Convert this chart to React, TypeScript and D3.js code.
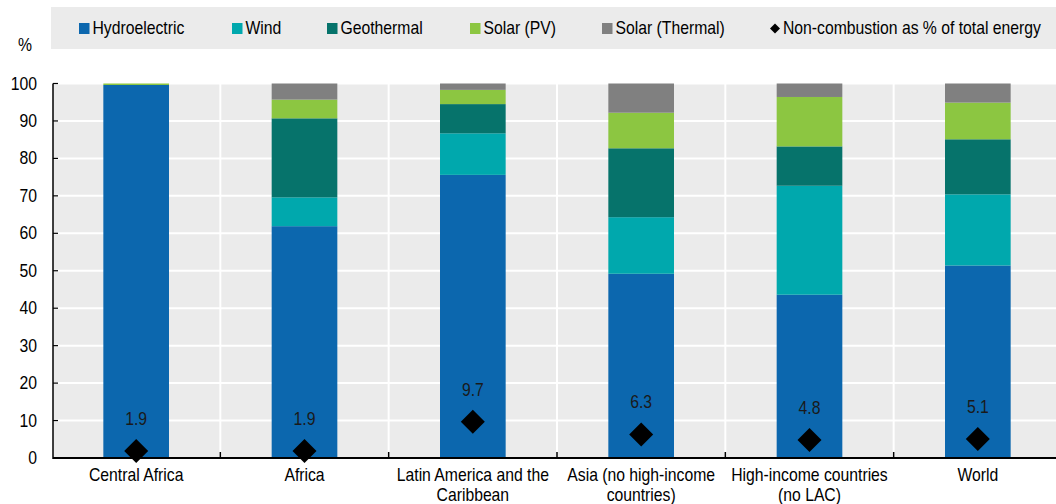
import * as d3 from 'd3';

const categories = [
  ['Central Africa'],
  ['Africa'],
  ['Latin America and the', 'Caribbean'],
  ['Asia (no high-income', 'countries)'],
  ['High-income countries', '(no LAC)'],
  ['World'],
];

const seriesNames = ['Hydroelectric', 'Wind', 'Geothermal', 'Solar (PV)', 'Solar (Thermal)'];
const seriesColors = ['#0c67ae', '#00a8ad', '#06736b', '#8cc641', '#808080'];

const hydro = [99.6, 61.9, 75.6, 49.2, 43.6, 51.4];
const wind = [0, 7.7, 11.1, 15.1, 29.1, 19.0];
const geothermal = [0, 21.1, 7.8, 18.4, 10.5, 14.7];
const solarPV = [0.4, 5.0, 3.8, 9.5, 13.2, 9.8];
const solarThermal = [0, 4.3, 1.7, 7.8, 3.6, 5.1];

const nonCombustion = [1.9, 1.9, 9.7, 6.3, 4.8, 5.1];
const yTicks = [0, 10, 20, 30, 40, 50, 60, 70, 80, 90, 100];

const FONT = '"Liberation Sans", Arial, sans-serif';
const FS = 17.5;
const SX = 0.9; // narrow the sans to look like Arial Narrow

// text squeezed horizontally around its anchor point
function NText({ x, y, anchor = 'start', children, fill = '#000' }: any) {
  return (
    <text
      transform={`translate(${x},${y}) scale(${SX},1)`}
      textAnchor={anchor}
      fontSize={FS}
      fill={fill}
    >
      {children}
    </text>
  );
}

export default function App() {
  const width = 1056;
  const height = 504;
  const left = 53;
  const right = 1056;
  const top = 83.5;
  const bottom = 458;

  const keys = categories.map((c) => c.join(' '));
  const x = d3.scaleBand<string>().domain(keys).range([52, 1062]).paddingInner(0).paddingOuter(0);
  const y = d3.scaleLinear().domain([0, 100]).range([bottom, top]);
  const barW = x.bandwidth() * 0.39;

  const rows = keys.map((k, i) => ({
    key: k,
    Hydroelectric: hydro[i],
    Wind: wind[i],
    Geothermal: geothermal[i],
    'Solar (PV)': solarPV[i],
    'Solar (Thermal)': solarThermal[i],
  }));
  const stacked = d3.stack<any>().keys(seriesNames)(rows);

  const diamond = (cx: number, cy: number, r: number) =>
    `M${cx},${cy - r}L${cx + r},${cy}L${cx},${cy + r}L${cx - r},${cy}Z`;

  const legendX = [79, 232, 327, 470, 602];

  return (
    <svg width={width} height={height} style={{ position: 'absolute', left: 0, top: 0 }} fontFamily={FONT}>
      {/* legend */}
      <rect x={51} y={7} width={right - 51} height={42} fill="#ebebeb" />
      {seriesNames.map((s, i) => (
        <g key={s}>
          <rect x={legendX[i]} y={23} width={10.5} height={11} fill={seriesColors[i]} />
          <NText x={legendX[i] + 13.5} y={34}>{s}</NText>
        </g>
      ))}
      <path d={diamond(775, 28.5, 5)} fill="#000" />
      <NText x={783} y={34}>Non-combustion as % of total energy</NText>

      {/* plot background */}
      <rect x={left} y={top} width={right - left} height={bottom - top} fill="#ebebeb" />
      {yTicks.filter((t) => t > 0).map((t) => (
        <line key={t} x1={left} x2={right} y1={y(t)} y2={y(t)} stroke="#fff" strokeWidth={2} />
      ))}
      {keys.slice(1).map((k) => (
        <line key={k} x1={x(k)!} x2={x(k)!} y1={top} y2={bottom} stroke="#fff" strokeWidth={2} />
      ))}

      {/* bars */}
      {stacked.map((layer, si) => (
        <g key={layer.key} fill={seriesColors[si]}>
          {layer.map((d, i) => {
            const h = y(d[0]) - y(d[1]);
            if (h <= 0) return null;
            return (
              <rect
                key={i}
                x={x(keys[i])! + (x.bandwidth() - barW) / 2}
                y={y(d[1])}
                width={barW}
                height={h}
              />
            );
          })}
        </g>
      ))}

      {/* non-combustion markers */}
      {nonCombustion.map((v, i) => {
        const cx = x(keys[i])! + x.bandwidth() / 2;
        return (
          <g key={i}>
            <path d={diamond(cx, y(v), 12)} fill="#000" />
            <NText x={cx} y={y(v) - 26} anchor="middle" fill="#1a1a1a">
              {v.toFixed(1)}
            </NText>
          </g>
        );
      })}

      {/* axes */}
      <line x1={left} x2={left} y1={top} y2={bottom + 1} stroke="#000" strokeWidth={1.5} />
      <line x1={left} x2={right} y1={bottom} y2={bottom} stroke="#000" strokeWidth={2} />
      {yTicks.map((t) => (
        <g key={t}>
          <line x1={left} x2={left + 5} y1={y(t)} y2={y(t)} stroke="#000" strokeWidth={1.2} />
          <NText x={37} y={y(t) + 6} anchor="end">{t}</NText>
        </g>
      ))}
      {keys.slice(1).map((k) => (
        <line key={k} x1={x(k)!} x2={x(k)!} y1={bottom - 6} y2={bottom} stroke="#000" strokeWidth={1.5} />
      ))}
      <NText x={25} y={51} anchor="middle">%</NText>

      {categories.map((lines, i) => {
        const cx = x(keys[i])! + x.bandwidth() / 2;
        return (
          <g key={i}>
            {lines.map((l, j) => (
              <NText key={j} x={cx} y={481 + j * 20} anchor="middle">{l}</NText>
            ))}
          </g>
        );
      })}
    </svg>
  );
}
